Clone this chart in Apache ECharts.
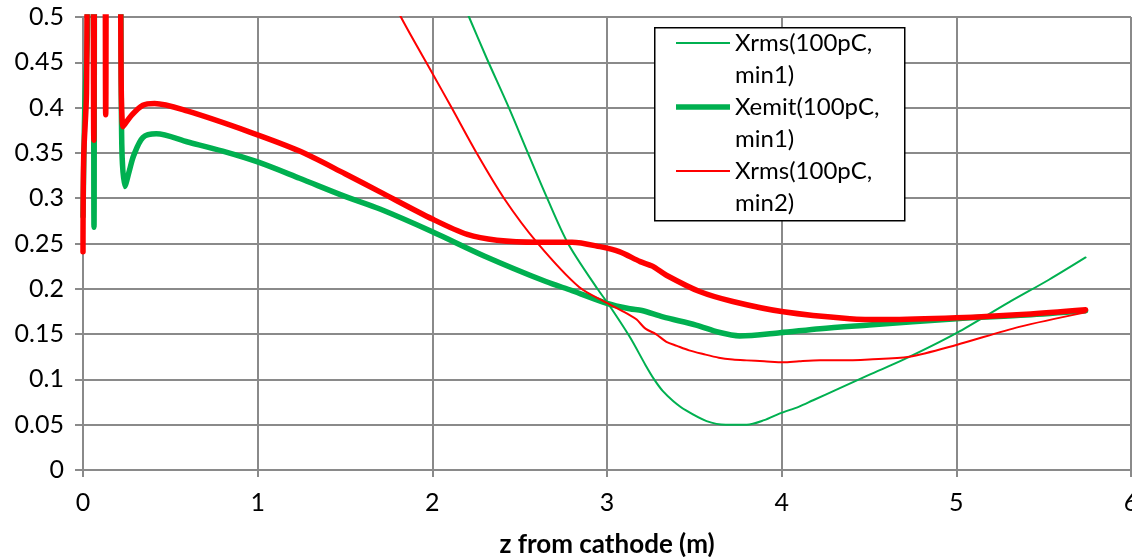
<!DOCTYPE html>
<html>
<head>
<meta charset="utf-8">
<script src="https://cdn.jsdelivr.net/npm/echarts@6/dist/echarts.min.js"></script>
<style>
  html, body { margin: 0; padding: 0; background: #fff; }
  #chart { width: 1132px; height: 557px; }
</style>
</head>
<body>
<div id="chart"></div>
<script>
// Beam size / emittance along the beamline, z from cathode in metres
const seriesNames = ['Xrms(100pC, min1)', 'Xemit(100pC, min1)', 'Xrms(100pC, min2)', 'Xemit(100pC, min2)'];

// Xrms, working point min1 (thin green)
const zRmsMin1 = [1.95, 2.21, 2.31, 2.438, 2.547, 2.653, 2.777, 2.945, 3.005, 3.13, 3.22, 3.27, 3.32, 3.38, 3.45, 3.57, 3.68, 3.80, 3.90, 3.99, 4.10, 4.18, 4.33, 4.50, 4.70, 5.00, 5.30, 5.53, 5.74];
const rmsMin1 = [0.617, 0.500, 0.455, 0.400, 0.350, 0.302, 0.250, 0.200, 0.184, 0.147, 0.116, 0.100, 0.087, 0.076, 0.066, 0.054, 0.050, 0.050, 0.055, 0.0625, 0.070, 0.077, 0.090, 0.105, 0.122, 0.151, 0.185, 0.210, 0.2346];

// Xemit, working point min1 (thick green)
const zEmitMin1 = [0.000, 0.010, 0.025, 0.035, 0.055, 0.063, 0.071, 0.205, 0.222, 0.240, 0.265, 0.290, 0.343, 0.42, 0.60, 0.80, 1.00, 1.24, 1.50, 1.70, 2.00, 2.30, 2.65, 2.80, 3.00, 3.13, 3.20, 3.32, 3.51, 3.64, 3.76, 3.99, 4.22, 4.50, 5.00, 5.40, 5.74];
const emitMin1 = [0.28, 0.40, 0.48, 0.70, 0.70, 0.268, 0.70, 0.70, 0.36, 0.313, 0.330, 0.347, 0.367, 0.371, 0.362, 0.352, 0.340, 0.322, 0.302, 0.288, 0.263, 0.236, 0.208, 0.198, 0.184, 0.178, 0.176, 0.169, 0.160, 0.152, 0.148, 0.1515, 0.156, 0.160, 0.167, 0.171, 0.1757];

// Xrms, working point min2 (thin red)
const zRmsMin2 = [1.60, 1.82, 2.00, 2.11, 2.25, 2.41, 2.60, 2.84, 3.005, 3.13, 3.17, 3.22, 3.28, 3.34, 3.40, 3.47, 3.55, 3.64, 3.72, 3.80, 3.90, 4.01, 4.10, 4.22, 4.33, 4.50, 4.73, 5.00, 5.36, 5.74];
const rmsMin2 = [0.585, 0.500, 0.438, 0.400, 0.351, 0.300, 0.251, 0.202, 0.184, 0.171, 0.166, 0.156, 0.150, 0.1415, 0.137, 0.132, 0.128, 0.124, 0.122, 0.121, 0.120, 0.1188, 0.120, 0.121, 0.121, 0.122, 0.125, 0.138, 0.158, 0.174];

// Xemit, working point min2 (thick red)
const zEmitMin2 = [0.000, 0.004, 0.020, 0.030, 0.052, 0.062, 0.075, 0.120, 0.130, 0.140, 0.200, 0.229, 0.280, 0.343, 0.41, 0.60, 0.955, 1.24, 1.50, 1.70, 2.00, 2.20, 2.37, 2.60, 2.80, 2.96, 3.07, 3.19, 3.26, 3.34, 3.53, 3.72, 4.01, 4.39, 4.60, 5.00, 5.40, 5.74];
const emitMin2 = [0.241, 0.346, 0.416, 0.70, 0.70, 0.364, 0.70, 0.70, 0.392, 0.70, 0.70, 0.379, 0.392, 0.4026, 0.4045, 0.396, 0.373, 0.352, 0.327, 0.307, 0.277, 0.260, 0.2537, 0.2515, 0.2515, 0.2465, 0.241, 0.230, 0.225, 0.215, 0.197, 0.186, 0.1746, 0.167, 0.166, 0.168, 0.172, 0.177];

const xAxisTitle = 'z from cathode (m)';

const zip = (xs, ys) => xs.map((x, i) => [x, ys[i]]);

const GREEN = '#00B050';
const RED = '#FF0000';
const GRID = '#8a8a8a';
const FONT = 'Lato';

const chart = echarts.init(document.getElementById('chart'), null, { renderer: 'canvas' });

function lineSeries(name, data, color, width) {
  return {
    name: name,
    type: 'line',
    data: data,
    symbol: 'none',
    smooth: 0.3,
    clip: true,
    lineStyle: { color: color, width: width, cap: 'round', join: 'round' },
    itemStyle: { color: color },
    emphasis: { disabled: true },
    animation: false
  };
}

// flat bar used as the legend key, thickness follows the series line width
const keyIcon = (h) => 'path://M0,0H54V' + h + 'H0Z';

chart.setOption({
  backgroundColor: '#ffffff',
  animation: false,
  grid: { left: 83, right: 1, top: 17, bottom: 87, containLabel: false, outerBoundsMode: 'none' },
  xAxis: {
    type: 'value',
    min: 0, max: 6, interval: 1,
    name: xAxisTitle,
    nameLocation: 'middle',
    nameGap: 62,
    nameTextStyle: { fontFamily: FONT, fontWeight: 'bold', fontSize: 26, color: '#000' },
    axisLine: { show: true, lineStyle: { color: GRID, width: 2 } },
    axisTick: { show: true, length: 7, lineStyle: { color: GRID, width: 2 } },
    axisLabel: { fontFamily: FONT, fontSize: 25, color: '#000', margin: 20 },
    splitLine: { show: true, lineStyle: { color: GRID, width: 2 } }
  },
  yAxis: {
    type: 'value',
    min: 0, max: 0.5, interval: 0.05,
    axisLine: { show: true, lineStyle: { color: GRID, width: 2 } },
    axisTick: { show: true, length: 8, lineStyle: { color: GRID, width: 2 } },
    axisLabel: { fontFamily: FONT, fontSize: 25, color: '#000', margin: 19 },
    splitLine: { show: true, lineStyle: { color: GRID, width: 2 } }
  },
  legend: {
    data: [
      { name: seriesNames[0], icon: keyIcon(2) },
      { name: seriesNames[1], icon: keyIcon(5.5) },
      { name: seriesNames[2], icon: keyIcon(2) }
    ],
    orient: 'vertical',
    left: 676,
    top: -5,
    padding: 0,
    itemWidth: 54,
    itemHeight: 14,
    itemGap: -32,
    selectedMode: false,
    // leading empty line keeps the key level with the first text line
    formatter: (name) => '\n' + name.replace(', ', ',\n'),
    textStyle: { fontFamily: FONT, fontSize: 24, color: '#000', lineHeight: 32 }
  },
  graphic: [{
    type: 'rect',
    left: 654, top: 27,
    shape: { width: 250, height: 193 },
    style: { fill: '#ffffff', stroke: '#000000', lineWidth: 1.5 },
    z: 4, zlevel: 0
  }],
  series: [
    lineSeries(seriesNames[0], zip(zRmsMin1, rmsMin1), GREEN, 2),
    lineSeries(seriesNames[1], zip(zEmitMin1, emitMin1), GREEN, 5.5),
    lineSeries(seriesNames[2], zip(zRmsMin2, rmsMin2), RED, 2),
    lineSeries(seriesNames[3], zip(zEmitMin2, emitMin2), RED, 5.5)
  ]
});
</script>
</body>
</html>
